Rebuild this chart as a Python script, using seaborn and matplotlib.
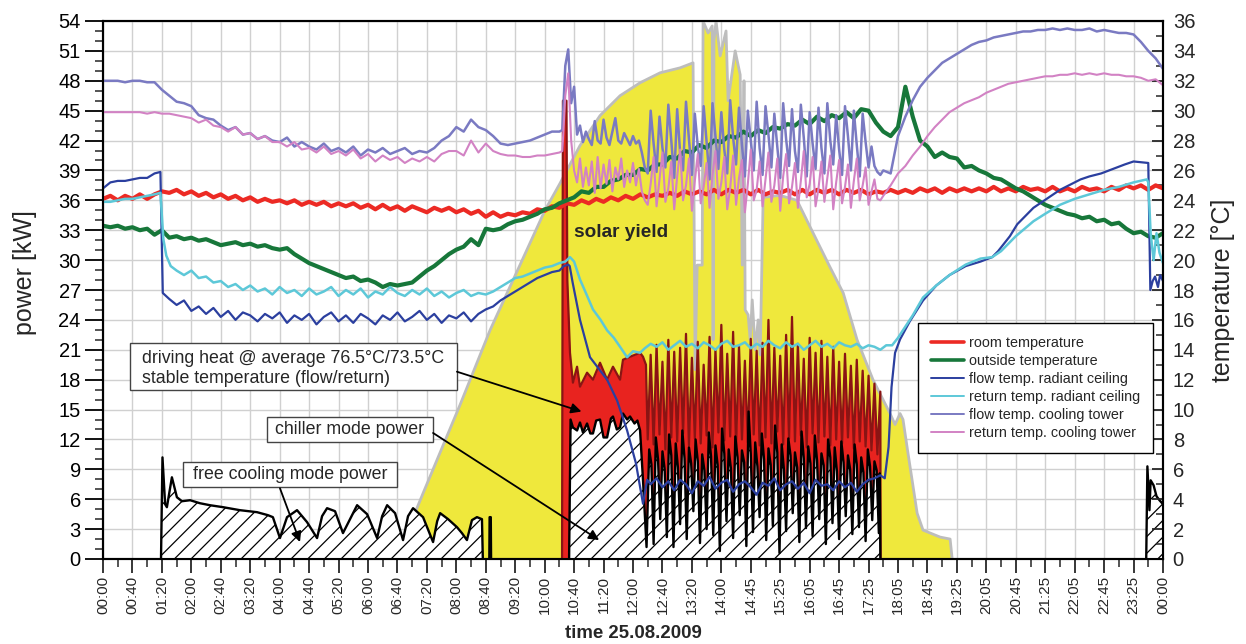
import numpy as np
import matplotlib
matplotlib.use("Agg")
import matplotlib.pyplot as plt
from matplotlib.lines import Line2D
from matplotlib.patches import Rectangle
from matplotlib.ticker import MultipleLocator
import seaborn as sns

# ---------------------------------------------------------------------------
# Data: x positions are measured in tick intervals of the logger time axis
# (0 = 00:00 at the first tick, 36 = 00:00 at the last tick).
# ---------------------------------------------------------------------------
TIME_LABELS = ["00:00", "00:40", "01:20", "02:00", "02:40", "03:20", "04:00", "04:40",
               "05:20", "06:00", "06:40", "07:20", "08:00", "08:40", "09:20", "10:00",
               "10:40", "11:20", "12:00", "12:40", "13:20", "14:00", "14:45", "15:25",
               "16:05", "16:45", "17:25", "18:05", "18:45", "19:25", "20:05", "20:45",
               "21:25", "22:05", "22:45", "23:25", "00:00"]

# solar yield [kW]
solar_t = [9.95, 10.87, 12.13, 13.15, 14.16, 15.01, 15.52, 16.2, 16.88, 17.56,
           18.24, 18.92, 19.6, 20.04, 20.11, 20.18, 20.35, 20.38, 20.55, 20.69,
           20.72, 20.75, 20.82, 20.96, 21.16, 21.23, 21.47, 21.64, 21.71, 21.77,
           21.81, 21.91, 21.98, 22.05, 22.15, 22.25, 22.32, 22.42, 22.99, 23.57,
           24.12, 24.69, 25.14, 25.61, 26.15, 26.73, 26.9, 27.07, 27.17, 27.31,
           27.65, 27.85, 28.43, 28.77, 28.84]
solar_kw = [0, 6.6, 15.5, 23.0, 29.5, 35.0, 37.7, 41.5, 44.5, 46.5,
            47.8, 48.8, 49.3, 49.8, 19.0, 29.5, 29.5, 54.0, 52.8, 53.5,
            22.0, 52.0, 54.0, 50.5, 53.0, 46.0, 51.0, 48.6, 29.5, 48.0,
            25.0, 24.5, 22.0, 26.0, 21.0, 24.0, 20.5, 36.3, 36.5, 36.0,
            32.7, 29.3, 26.7, 22.0, 18.0, 14.6, 13.5, 14.6, 14.0, 11.2,
            4.6, 2.9, 2.2, 2.0, 0]

# driving heat [kW]: start-up peak and steady phase, then on/off cycling
heat_t = [15.59, 15.62, 15.74, 15.77, 15.86, 15.96, 16.1, 16.2, 16.44, 16.64,
          16.88, 17.12, 17.32, 17.56, 17.66, 17.9, 18.24, 18.34, 18.44]
heat_kw = [0, 46.0, 46.0, 28.0, 20.7, 17.7, 19.3, 17.3, 18.7, 18.0,
           19.7, 18.0, 19.3, 18.0, 20.0, 20.3, 20.7, 20.3, 19.5]
heat_cycling_kw = [12.0, 20.5, 11.5, 21.5, 12.5, 19.8, 11.0, 22.0, 12.2, 20.8,
                   11.8, 21.2, 12.6, 22.6, 11.4, 20.2, 12.1, 21.8, 11.6, 19.5,
                   12.4, 22.3, 11.2, 21.0, 12.7, 23.5, 11.9, 20.6, 12.3, 22.8,
                   11.3, 21.4, 12.0, 19.9, 11.7, 22.1, 12.5, 20.9, 11.4, 21.7,
                   12.2, 24.0, 11.6, 21.2, 12.8, 20.4, 11.5, 22.5, 12.1, 24.3,
                   11.8, 21.6, 12.4, 20.1, 11.2, 22.2, 12.6, 20.7, 11.7, 21.9,
                   12.3, 20.3, 11.4, 21.3, 12.0, 19.8, 11.6, 20.6, 12.2, 19.4,
                   11.1, 20.0, 11.8, 18.9, 11.3, 18.4, 10.9, 17.6, 10.5, 16.8]

# chiller mode power [kW]
chiller_t = [15.83, 15.88, 15.96, 16.1, 16.2, 16.3, 16.44, 16.55, 16.64, 16.75,
             16.88, 17.0, 17.12, 17.25, 17.32, 17.45, 17.56, 17.66, 17.8, 17.9,
             18.05, 18.15, 18.24, 18.34, 18.46]
chiller_kw = [0, 14.0, 13.2, 12.9, 13.7, 12.7, 13.6, 12.6, 12.6, 13.9,
              14.0, 12.2, 12.2, 14.1, 14.3, 13.0, 13.2, 14.6, 14.0, 14.3,
              13.6, 13.9, 12.9, 7.9, 1.2]
chiller_cycling_kw = [11.0, 9.5, 1.5, 12.2, 10.0, 4.0, 10.8, 9.0, 2.2, 12.5, 10.4, 1.2,
                      11.6, 9.2, 3.5, 12.9, 10.1, 2.0, 11.2, 9.6, 4.8, 12.0, 9.8, 1.6,
                      10.5, 8.9, 3.0, 12.7, 10.3, 2.4, 11.4, 9.4, 0.8, 13.1, 10.6, 3.8,
                      11.0, 9.1, 2.1, 12.3, 10.2, 4.4, 10.9, 9.7, 1.3, 14.8, 10.5, 2.7,
                      11.7, 9.3, 4.2, 12.6, 10.0, 1.9, 11.1, 9.5, 3.3, 13.4, 10.7, 0.6,
                      11.5, 9.0, 2.8, 12.1, 10.4, 4.6, 10.7, 9.2, 1.7, 12.8, 10.1, 3.1,
                      11.3, 9.6, 2.3, 12.4, 9.9, 4.0, 10.6, 9.4, 1.5, 12.0, 10.2, 3.6,
                      11.2, 8.8, 2.0, 11.8, 9.7, 4.3, 10.4, 9.0, 2.5, 11.5, 9.5, 3.2,
                      10.2, 8.7, 1.8, 11.0, 9.3, 3.9, 9.8, 8.9, 2.6]
chiller_end_t = [26.38, 26.4]
chiller_end_kw = [8.6, 0]

# free cooling mode power [kW]
free_t = [1.97, 2.02, 2.11, 2.17, 2.34, 2.51, 2.68, 2.96, 3.29, 3.63,
          4.08, 4.65, 5.23, 5.6, 5.77, 6.01, 6.25, 6.59, 6.93, 7.27,
          7.44, 7.61, 7.88, 8.15, 8.39, 8.63, 8.97, 9.31, 9.48, 9.65,
          9.92, 10.19, 10.36, 10.53, 10.87, 11.21, 11.35, 11.45, 11.72, 12.02,
          12.19, 12.36, 12.53, 12.7, 12.87, 12.9]
free_kw = [0, 10.2, 5.5, 5.2, 8.2, 6.2, 5.8, 5.9, 5.6, 5.4,
           5.2, 4.9, 4.7, 4.4, 4.2, 2.1, 4.2, 4.9, 3.7, 2.1,
           4.3, 5.1, 4.8, 2.6, 4.0, 5.4, 4.5, 2.1, 4.3, 5.4,
           4.6, 1.9, 4.3, 5.1, 4.2, 1.7, 3.8, 4.6, 4.0, 3.2,
           2.6, 1.9, 3.9, 4.2, 4.0, 0]
free_blip_t = [13.12, 13.13, 13.17, 13.18]
free_blip_kw = [0, 4.2, 4.2, 0]
free_late_t = [35.43, 35.47, 35.54, 35.58, 35.68, 35.78, 35.88, 36.0]
free_late_kw = [0, 9.3, 4.9, 7.9, 7.4, 6.3, 5.9, 5.5]

# room temperature [°C], every quarter tick
room_temp = [24.1, 24.3, 24.0, 24.3, 24.1, 24.4, 24.1, 24.4, 24.6, 24.5, 24.7, 24.4,
             24.6, 24.3, 24.5, 24.2, 24.4, 24.1, 24.3, 24.0, 24.2, 23.9, 24.1, 23.9,
             24.0, 23.8, 24.0, 23.7, 23.9, 23.7, 23.9, 23.6, 23.8, 23.6, 23.8, 23.5,
             23.7, 23.4, 23.7, 23.4, 23.6, 23.3, 23.6, 23.4, 23.2, 23.5, 23.3, 23.5,
             23.2, 23.4, 23.1, 23.3, 22.9, 23.2, 22.9, 23.1, 23.0, 23.2, 23.1, 23.4,
             23.3, 23.6, 23.5, 23.8, 23.7, 24.0, 23.8, 24.1, 23.9, 24.2, 24.0, 24.3,
             24.1, 24.4, 24.2, 24.4, 24.3, 24.5, 24.3, 24.6, 24.4, 24.6, 24.4, 24.7,
             24.4, 24.7, 24.5, 24.7, 24.4, 24.7, 24.4, 24.6, 24.5, 24.7, 24.4, 24.7,
             24.4, 24.7, 24.5, 24.7, 24.4, 24.7, 24.5, 24.7, 24.4, 24.6, 24.5, 24.7,
             24.5, 24.7, 24.5, 24.8, 24.6, 24.8, 24.5, 24.8, 24.6, 24.8, 24.6, 24.8,
             24.6, 24.9, 24.6, 24.8, 24.6, 24.9, 24.7, 24.8, 24.6, 24.9, 24.6, 24.8,
             24.6, 24.9, 24.7, 24.8, 24.6, 24.9, 24.7, 25.0, 24.8, 25.0, 24.7, 25.0,
             24.8]

# outside temperature [°C], every quarter tick
outside_temp = [22.3, 22.2, 22.3, 22.1, 22.2, 22.0, 22.1, 21.7, 22.0, 21.5, 21.6, 21.4,
                21.5, 21.3, 21.4, 21.2, 21.0, 21.1, 21.2, 21.0, 21.1, 20.9, 21.0, 20.8,
                20.7, 20.8, 20.4, 20.1, 19.8, 19.6, 19.4, 19.2, 19.0, 18.8, 18.9, 18.6,
                18.7, 18.5, 18.2, 18.4, 18.3, 18.4, 18.5, 18.9, 19.3, 19.6, 20.0, 20.4,
                20.7, 20.9, 21.4, 21.0, 22.1, 22.0, 22.1, 22.4, 22.6, 22.7, 22.9, 23.1,
                23.4, 23.5, 23.8, 24.0, 24.2, 24.6, 24.5, 24.9, 24.9, 25.3, 25.4, 25.7,
                25.7, 26.1, 26.0, 26.4, 26.4, 26.9, 26.8, 27.3, 27.2, 27.7, 27.5, 28.0,
                27.9, 28.3, 28.2, 28.6, 28.3, 28.7, 28.5, 28.9, 28.8, 29.1, 29.0, 29.4,
                29.1, 29.6, 29.3, 29.7, 29.5, 29.9, 29.5, 30.1, 30.0, 29.2, 28.6, 28.3,
                28.9, 31.6, 29.6, 28.0, 27.6, 26.9, 27.2, 26.9, 26.8, 26.2, 26.3, 26.0,
                25.8, 25.5, 25.4, 25.1, 24.8, 24.6, 24.3, 24.0, 23.7, 23.5, 23.3, 23.1,
                23.0, 22.8, 22.9, 22.6, 22.7, 22.4, 22.5, 22.1, 21.8, 21.9, 21.6, 21.5,
                21.8]

# flow temperature radiant ceiling [°C]
rc_flow_t_a = [0, 0.25, 0.5, 0.75, 1.0, 1.25, 1.5, 1.75, 1.95, 2.03]
rc_flow_a = [24.8, 25.2, 25.3, 25.3, 25.4, 25.5, 25.5, 25.8, 25.9, 17.8]
rc_flow_night = [17.4, 17.0, 17.3, 16.6, 16.9, 16.4, 16.8, 16.2, 16.6, 16.0,
                 16.5, 16.3, 15.9, 16.4, 16.1, 16.5, 15.8, 16.3, 16.0, 16.4,
                 15.7, 16.2, 16.5, 15.9, 16.3, 15.8, 16.4, 16.1, 15.7, 16.3,
                 16.0, 16.5, 15.9, 16.2, 16.6, 16.0, 16.4, 15.8, 16.3, 16.1,
                 16.5, 15.9, 16.4, 16.7, 16.9]
rc_flow_t_c = [13.5, 13.75, 14.0, 14.25, 14.5, 14.75, 15.0, 15.25, 15.5, 15.65,
               15.8, 15.85, 15.95, 16.2, 16.54, 16.85, 17.12, 17.46, 17.8, 18.1,
               18.34, 18.48]
rc_flow_c = [17.3, 17.6, 17.9, 18.2, 18.5, 18.8, 19.0, 19.2, 19.3, 19.6,
             19.7, 19.6, 18.5, 16.0, 13.5, 12.7, 12.0, 10.6, 8.6, 6.4,
             3.7, 5.3]
rc_flow_chiller = [5.0, 5.4, 4.8, 5.2, 4.6, 5.3, 5.0, 4.4, 5.2, 4.9,
                   5.5, 4.7, 5.1, 5.3, 4.5, 5.0, 5.2, 4.8, 4.3, 5.1,
                   4.9, 5.4, 4.6, 5.0, 5.2, 4.7, 5.1, 4.4, 5.3, 4.9,
                   5.0, 4.6, 5.2, 4.8, 5.1, 4.5, 5.0, 5.3, 5.4, 5.6]
rc_flow_t_e = [26.55, 26.68, 26.78, 26.9, 27.07, 27.4, 27.85, 28.3, 28.75, 29.3,
               29.8, 30.2, 30.4, 30.8, 31.05, 31.3, 31.6, 31.9, 32.2, 32.5,
               32.8, 33.2, 33.5, 33.9, 34.3, 34.7, 35.0, 35.5, 35.57, 35.65,
               35.73, 35.83, 35.9, 36.0]
rc_flow_e = [5.4, 7.5, 11.5, 13.8, 14.7, 15.9, 17.3, 18.3, 19.0, 19.6,
             19.9, 20.2, 20.6, 21.6, 22.4, 22.9, 23.5, 23.9, 24.3, 24.7,
             25.0, 25.4, 25.6, 25.8, 26.1, 26.4, 26.6, 26.5, 18.0, 18.6,
             18.9, 18.2, 19.0, 18.6]

# return temperature radiant ceiling [°C]
rc_ret_t_a = [0, 0.25, 0.5, 0.75, 1.0, 1.25, 1.5, 1.75, 1.95, 2.05, 2.15, 2.3, 2.5]
rc_ret_a = [23.9, 23.9, 24.0, 24.1, 24.1, 24.2, 24.3, 24.4, 24.5, 21.4, 20.3, 19.6, 19.3]
rc_ret_night = [19.0, 19.3, 18.8, 18.9, 18.5, 18.6, 18.2, 18.4, 18.0, 18.3,
                17.9, 18.1, 17.7, 18.2, 17.8, 18.0, 17.6, 18.1, 17.7, 17.9,
                18.2, 17.6, 18.0, 17.7, 18.1, 17.5, 17.9, 17.7, 18.2, 17.8,
                17.6, 18.0, 17.7, 18.1, 17.6, 17.9, 17.5, 17.8, 18.0, 17.6,
                17.8, 17.7, 17.9]
rc_ret_t_c = [13.5, 13.75, 14.0, 14.25, 14.5, 14.75, 15.0, 15.25, 15.5, 15.7,
              15.86, 16.0, 16.2, 16.4, 16.64, 16.9, 17.12, 17.35, 17.56, 17.8,
              18.0, 18.24]
rc_ret_c = [18.2, 18.5, 18.8, 18.9, 19.1, 19.3, 19.5, 19.6, 19.8, 19.9,
            20.2, 19.9, 18.7, 17.8, 16.7, 16.0, 15.3, 14.8, 14.2, 13.5,
            13.9, 13.8]
rc_ret_chiller = [14.1, 14.4, 14.2, 14.5, 14.0, 14.3, 14.6, 14.2, 14.4, 14.1,
                  14.5, 14.3, 14.0, 14.4, 14.6, 14.2, 14.3, 14.5, 14.1, 14.4,
                  14.2, 14.6, 14.3, 14.1, 14.5, 14.2, 14.4, 14.0, 14.3, 14.6,
                  14.2, 14.4, 14.1, 14.5, 14.3, 14.2, 14.4, 14.1, 14.3, 14.2,
                  14.0, 14.3]
rc_ret_t_e = [26.8, 27.0, 27.2, 27.5, 27.85, 28.3, 28.75, 29.3, 29.8, 30.2,
              30.5, 31.0, 31.6, 32.0, 32.5, 33.0, 33.5, 34.0, 34.5, 35.0,
              35.45, 35.5, 35.58, 35.68, 35.78, 35.88, 36.0]
rc_ret_e = [14.3, 14.8, 15.4, 16.3, 17.5, 18.3, 19.0, 19.7, 20.1, 20.2,
            20.6, 21.6, 22.6, 23.1, 23.7, 24.1, 24.4, 24.7, 24.9, 25.2,
            25.4, 25.2, 21.8, 20.0, 21.8, 20.5, 19.8]

# flow temperature cooling tower [°C]: night (quarter ticks), chiller period (0.1), evening
ct_flow_night = [32.0, 32.0, 32.0, 31.9, 32.0, 32.0, 31.9, 31.9,
                 31.4, 31.0, 30.6, 30.5,
                 30.3, 29.7, 29.5, 29.4, 29.0, 28.7, 28.9, 28.4,
                 28.5, 28.1, 28.3, 28.0, 27.9, 28.2, 27.6, 27.9,
                 27.6, 27.4, 27.8, 27.3, 27.5, 27.2, 27.6, 27.0,
                 27.4, 27.2, 27.5, 27.1, 27.3, 27.5, 27.1, 27.3,
                 27.2, 27.5, 28.0, 28.3, 28.9, 28.6, 29.4, 28.9,
                 28.7, 28.3, 27.8, 27.7, 27.8, 27.9, 28.0, 28.2,
                 28.4, 28.6, 28.6]
ct_flow_day = [28.7, 33.0, 34.1, 30.5, 31.6, 28.4, 29.0, 27.9, 28.6, 28.1,
               27.7, 29.3, 28.0, 27.8, 29.4, 28.2, 27.7, 28.6, 29.5, 28.0,
               27.8, 28.5, 28.1, 27.7, 28.3, 27.8, 28.0, 27.2, 26.2, 25.8,
               30.0, 27.8, 25.9, 29.6, 27.5, 26.2, 30.4, 28.0, 25.5, 30.1,
               27.2, 26.0, 30.6, 28.1, 25.7, 29.8, 27.6, 26.3, 30.3, 27.9,
               25.4, 30.5, 28.3, 26.1, 29.9, 27.4, 25.8, 30.7, 28.2, 26.4,
               30.2, 27.7, 25.6, 30.0, 28.0, 26.0, 30.6, 27.5, 25.7, 30.3,
               28.4, 26.2, 29.8, 27.6, 25.5, 30.5, 28.1, 26.3, 30.1, 27.3,
               25.9, 30.4, 28.2, 25.6, 29.9, 27.8, 26.1, 30.2, 27.5, 25.8,
               30.5, 28.0, 26.4, 29.7, 27.4, 25.7, 30.3, 28.3, 26.0, 30.0,
               27.7, 25.6, 29.8, 27.9, 26.2, 27.6, 26.3, 25.9, 25.7]
ct_flow_evening = [26.0, 25.8, 28.3, 29.6, 30.7, 31.6, 32.2, 32.7, 33.2, 33.5,
                   33.8, 34.1, 34.4, 34.6, 34.7, 34.9, 35.0, 35.1, 35.2, 35.3,
                   35.3, 35.4, 35.4, 35.5, 35.4, 35.5, 35.4, 35.4, 35.5, 35.3,
                   35.4, 35.3, 35.2, 35.2, 35.1, 34.6, 34.0, 33.5, 32.8]

# return temperature cooling tower [°C]
ct_ret_night = [29.9, 29.9, 29.9, 29.9, 29.9, 29.9, 29.8, 29.9,
                29.8, 29.8, 29.7, 29.6,
                29.5, 29.2, 29.4, 29.0, 28.9, 28.6, 28.9, 28.4,
                28.5, 28.1, 28.3, 27.9, 27.9, 27.6, 27.9, 27.4,
                27.5, 27.2, 27.6, 27.1, 27.3, 27.0, 27.4, 26.8,
                27.1, 26.6, 27.0, 26.7, 26.9, 26.5, 26.8, 26.6,
                26.9, 26.6, 27.1, 27.3, 27.3, 27.0, 28.0, 27.2,
                27.8, 27.3, 27.1, 27.0, 27.0, 26.9, 26.9, 27.0,
                27.0, 27.1, 27.2]
ct_ret_day = [27.3, 31.0, 32.5, 28.0, 26.0, 25.2, 26.8, 24.9, 26.2, 25.0,
              26.6, 24.5, 26.9, 24.8, 26.4, 25.1, 26.7, 24.6, 26.2, 25.4,
              26.8, 24.9, 26.0, 25.2, 26.5, 25.0, 26.1, 24.6, 24.0, 23.7,
              25.1, 26.9, 23.6, 25.4, 27.2, 23.9, 24.8, 26.6, 23.4, 25.6,
              27.4, 24.0, 25.0, 26.8, 23.3, 25.3, 27.1, 23.8, 24.9, 26.5,
              23.5, 25.7, 27.3, 24.1, 25.2, 26.9, 23.4, 24.8, 27.0, 23.7,
              25.5, 26.7, 23.2, 25.1, 27.4, 24.0, 24.7, 26.6, 23.6, 25.4,
              27.2, 23.9, 25.0, 26.8, 23.3, 25.6, 27.1, 23.8, 24.9, 26.5,
              23.5, 25.3, 27.3, 24.2, 25.1, 26.9, 23.6, 24.8, 26.6, 23.9,
              25.5, 27.0, 23.4, 25.2, 26.7, 23.8, 24.9, 26.4, 23.5, 25.3,
              26.8, 24.0, 25.0, 26.2, 23.7, 24.6, 25.4, 24.1, 24.0]
ct_ret_evening = [24.3, 25.0, 25.8, 26.3, 27.0, 27.6, 28.3, 28.9, 29.4, 29.9,
                  30.2, 30.5, 30.7, 30.9, 31.2, 31.4, 31.6, 31.8, 31.9, 32.0,
                  32.1, 32.2, 32.3, 32.3, 32.4, 32.4, 32.5, 32.4, 32.5, 32.4,
                  32.5, 32.4, 32.4, 32.3, 32.3, 32.2, 32.0, 32.1, 31.7]

LEGEND_LABELS = ["room temperature", "outside temperature", "flow temp. radiant ceiling",
                 "return temp. radiant ceiling", "flow temp. cooling tower",
                 "return temp. cooling tower"]


def grid(start, step, n):
    """Regular sample times starting at `start`."""
    return list(np.round(start + step * np.arange(n), 4))


# ---------------------------------------------------------------------------
# assemble series
# ---------------------------------------------------------------------------
heat_x = heat_t + grid(18.5, 0.1, len(heat_cycling_kw)) + [26.41]
heat_y = heat_kw + heat_cycling_kw + [0]

chiller_x = chiller_t + grid(18.55, 0.075, len(chiller_cycling_kw)) + chiller_end_t
chiller_y = chiller_kw + chiller_cycling_kw + chiller_end_kw

quarter = grid(0, 0.25, len(room_temp))

rc_flow_x = (rc_flow_t_a + grid(2.25, 0.25, len(rc_flow_night)) + rc_flow_t_c
             + grid(18.6, 0.2, len(rc_flow_chiller)) + rc_flow_t_e)
rc_flow_y = rc_flow_a + rc_flow_night + rc_flow_c + rc_flow_chiller + rc_flow_e

rc_ret_x = (rc_ret_t_a + grid(2.75, 0.25, len(rc_ret_night)) + rc_ret_t_c
            + grid(18.4, 0.2, len(rc_ret_chiller)) + rc_ret_t_e)
rc_ret_y = rc_ret_a + rc_ret_night + rc_ret_c + rc_ret_chiller + rc_ret_e

ct_x = (grid(0, 0.25, len(ct_flow_night)) + grid(15.6, 0.1, len(ct_flow_day))
        + grid(26.5, 0.25, len(ct_flow_evening)))
ct_flow_y = ct_flow_night + ct_flow_day + ct_flow_evening
ct_ret_y = ct_ret_night + ct_ret_day + ct_ret_evening

# ---------------------------------------------------------------------------
# figure
# ---------------------------------------------------------------------------
sns.set_style("ticks")
plt.rcParams["font.family"] = ["Liberation Sans", "DejaVu Sans"]
plt.rcParams["hatch.linewidth"] = 0.9

W, H = 1246, 644
fig = plt.figure(figsize=(W / 100, H / 100), dpi=100)
ax = fig.add_axes([103 / W, (H - 559) / H, 1060 / W, 538 / H])
ax2 = ax.twinx()

YELLOW = "#efe83c"
GREY = "#bdbdbd"
RED = "#e8231f"
DARKRED = "#8a1414"

# solar yield area
ax.fill_between(solar_t, 0, solar_kw, color=YELLOW, lw=0, zorder=2)
sns.lineplot(x=solar_t, y=solar_kw, ax=ax, color=GREY, lw=2.0,
             estimator=None, sort=False, zorder=3)

# driving heat
ax.fill_between(heat_x, 0, heat_y, color=RED, lw=0, zorder=4)
sns.lineplot(x=heat_x, y=heat_y, ax=ax, color=DARKRED, lw=1.6,
             estimator=None, sort=False, zorder=5)

# chiller and free cooling power (hatched)
for xs, ys in [(chiller_x, chiller_y), (free_t, free_kw),
               (free_blip_t, free_blip_kw), (free_late_t, free_late_kw)]:
    ax.fill_between(xs, 0, ys, facecolor="white", edgecolor="black",
                    hatch="//", lw=0, zorder=6)
    sns.lineplot(x=xs, y=ys, ax=ax, color="black", lw=1.7,
                 estimator=None, sort=False, zorder=7)

# temperatures on the right axis
series = [
    (quarter, room_temp, "#ec2a24", 3.0),
    (quarter, outside_temp, "#17773a", 3.0),
    (rc_flow_x, rc_flow_y, "#2b3f9f", 1.6),
    (rc_ret_x, rc_ret_y, "#5dc8d8", 1.8),
    (ct_x, ct_flow_y, "#7a7ac2", 1.8),
    (ct_x, ct_ret_y, "#d282c4", 1.5),
]
for xs, ys, c, lw in series:
    sns.lineplot(x=xs, y=ys, ax=ax2, color=c, lw=lw, estimator=None, sort=False)

# axes limits and ticks
ax.set_xlim(0, 36)
ax.set_ylim(0, 54)
ax2.set_ylim(0, 36)
ax.set_xticks(range(len(TIME_LABELS)))
ax.set_xticklabels(TIME_LABELS, rotation=90)
ax.xaxis.set_minor_locator(MultipleLocator(0.5))
ax.set_yticks(range(0, 55, 3))
ax.yaxis.set_minor_locator(MultipleLocator(1))
ax2.set_yticks(range(0, 37, 2))
ax2.yaxis.set_minor_locator(MultipleLocator(1))

ax.grid(True, which="major", color="#d0d0d0", lw=1.0)
ax.set_axisbelow(True)

ax.tick_params(axis="y", which="major", direction="out", length=13, width=1.3,
               labelsize=14.5, pad=3, colors="black")
ax.tick_params(axis="y", which="minor", direction="out", length=6, width=1.1)
ax.tick_params(axis="x", which="major", direction="out", length=10, width=1.3,
               labelsize=11, pad=2)
ax.tick_params(axis="x", which="minor", direction="out", length=6, width=1.1)
ax2.tick_params(axis="y", which="major", direction="in", length=8, width=1.3,
                labelsize=14.5, pad=7)
ax2.tick_params(axis="y", which="minor", direction="in", length=5, width=1.1)

for a in (ax, ax2):
    for s in a.spines.values():
        s.set_linewidth(1.5)
        s.set_color("black")
        s.set_visible(True)

ax.set_xlabel("time 25.08.2009", fontsize=13.4, fontweight="bold")
ax.xaxis.set_label_coords(0.5, -0.1227)
ax.set_ylabel("power [kW]", fontsize=18)
ax.yaxis.label.set_verticalalignment("center")
ax.yaxis.set_label_coords(-0.0736, 0.533)
ax2.set_ylabel("temperature [°C]", fontsize=18)
ax2.yaxis.label.set_verticalalignment("center")
ax2.yaxis.set_label_coords(1.0566, 0.5)

# legend
handles = [Line2D([], [], color=c, lw=(2.6 if i < 2 else 1.4))
           for i, (_, _, c, _) in enumerate(series)]
leg = ax2.legend(handles, LEGEND_LABELS, loc="upper left",
                 bbox_to_anchor=(0.769, 0.4387), borderaxespad=0,
                 frameon=True, fancybox=False, framealpha=1, edgecolor="black",
                 fontsize=10.4, handlelength=2.3, handletextpad=0.3,
                 labelspacing=0.28, borderpad=0.9)
leg.get_frame().set_linewidth(1.0)

# annotation boxes and arrows
box_kw = dict(facecolor="white", edgecolor="#444444", lw=1.0,
              transform=ax.transData, zorder=20)
ax2.add_patch(Rectangle((0.917, 16.96), 11.10, 4.72, **box_kw))
ax2.add_patch(Rectangle((5.57, 11.74), 5.64, 2.51, **box_kw))
ax2.add_patch(Rectangle((2.72, 7.23), 7.27, 2.51, **box_kw))

txt_kw = dict(transform=ax.transData, fontsize=12.8, zorder=21)
ax2.text(1.32, 19.12, "driving heat @ average 76.5°C/73.5°C\nstable temperature (flow/return)",
         ha="left", va="center", linespacing=1.3, **txt_kw)
ax2.text(8.39, 12.95, "chiller mode power", ha="center", va="center", **txt_kw)
ax2.text(6.35, 8.45, "free cooling mode power", ha="center", va="center", **txt_kw)

arrow = dict(arrowstyle="-|>", color="black", lw=1.3, mutation_scale=15,
             shrinkA=0, shrinkB=0)
for start, end in [((12.02, 18.8), (16.25, 14.8)),
                   ((11.21, 12.65), (16.85, 1.9)),
                   ((6.01, 7.1), (6.69, 1.7))]:
    ax2.annotate("", xy=end, xytext=start, xycoords=ax.transData,
                 textcoords=ax.transData, arrowprops=arrow, zorder=22)

ax2.text(16.0, 32.8, "solar yield", transform=ax.transData, fontsize=13.7,
         fontweight="bold", ha="left", va="center", zorder=21)

fig.savefig("out.png", dpi=100)
